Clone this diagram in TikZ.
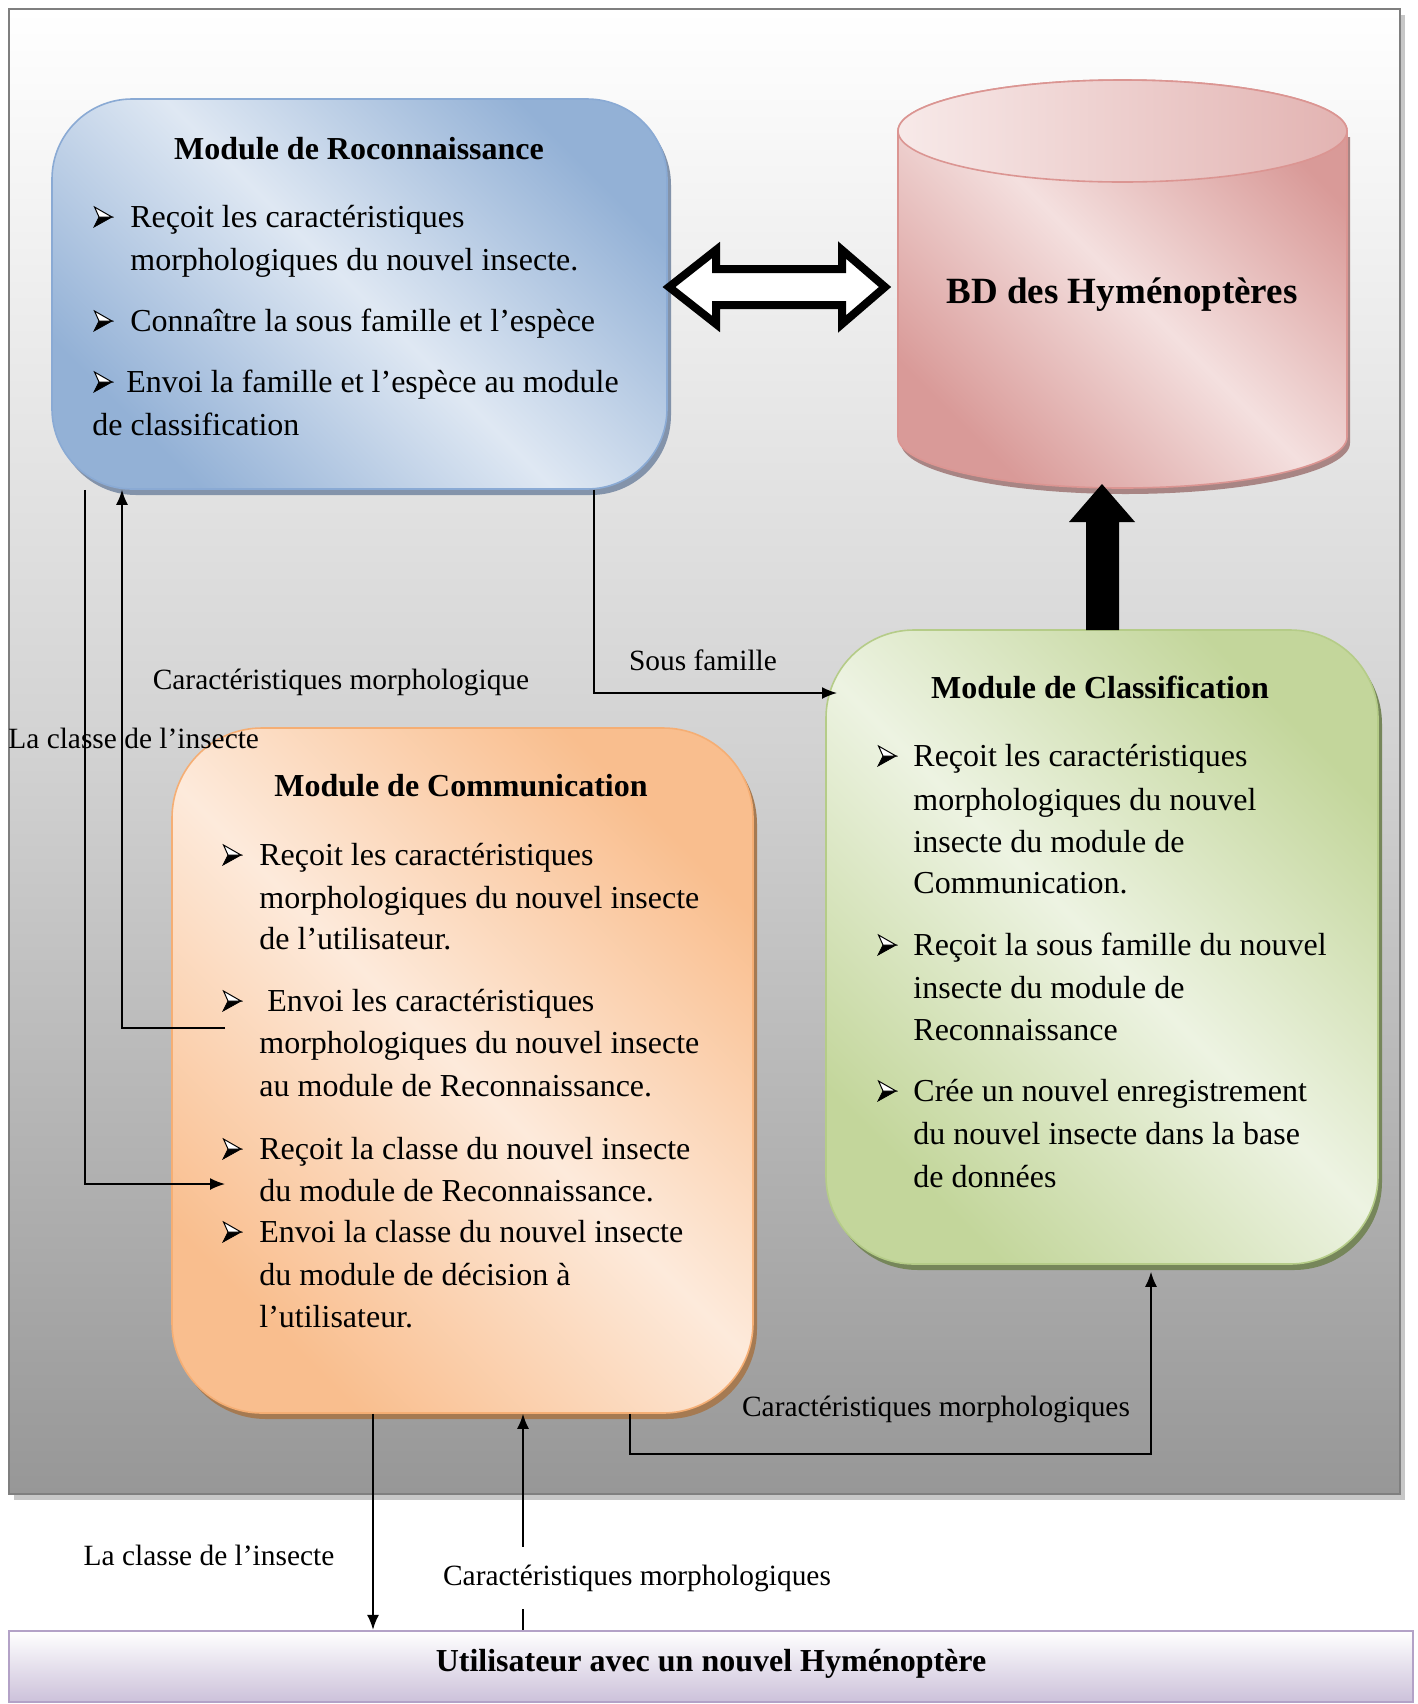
\documentclass[tikz,border=0pt]{standalone}
\usepackage{fontspec}
\setmainfont{Liberation Serif}
\usetikzlibrary{calc,arrows.meta}
\definecolor{recL}{HTML}{DFE8F3}
\definecolor{recD}{HTML}{93B1D6}
\definecolor{recB}{HTML}{8AAAD4}
\definecolor{recS}{HTML}{8393AA}
\definecolor{clsL}{HTML}{EDF3E2}
\definecolor{clsD}{HTML}{C3D69B}
\definecolor{clsB}{HTML}{B5CC88}
\definecolor{clsS}{HTML}{76865A}
\definecolor{comL}{HTML}{FDEADB}
\definecolor{comD}{HTML}{F9BE8E}
\definecolor{comB}{HTML}{F5AE74}
\definecolor{comS}{HTML}{A57A52}
\definecolor{dbL}{HTML}{F4E0DF}
\definecolor{dbD}{HTML}{D99A98}
\definecolor{dbB}{HTML}{DB9592}
\definecolor{dbS}{HTML}{A88584}
\definecolor{usrD}{HTML}{CCC1DA}
\definecolor{usrB}{HTML}{B3A2C7}
\definecolor{frameB}{HTML}{7F7F7F}
\definecolor{frameD}{HTML}{979797}
\definecolor{frameM}{HTML}{D2D2D2}
\newcommand\bdyf{\fontsize{16}{21}\selectfont}
\newcommand\lblf{\fontsize{14.7}{17}\selectfont}
\newcommand\ttlf{\bfseries\fontsize{16}{19}\selectfont}
\begin{document}
\begin{tikzpicture}[x=0.5pt,y=0.5pt,
  box/.style={rectangle,inner sep=0pt,line width=0.8pt},
  diag/.style 2 args={top color=#1,bottom color=#1,middle color=#2,shading angle=-45},
  ln/.style={anchor=base west,inner sep=0pt,font=\bdyf},
  ttl/.style={anchor=base,inner sep=0pt,font=\ttlf},
  lbl/.style={anchor=base,inner sep=0pt,font=\lblf},
  conn/.style={line width=0.8pt,draw=black},
  tip/.style={-{Latex[length=7.5pt,width=6pt]}},
  pics/bult/.style={code={
    \filldraw[black,line width=0.4pt,line join=miter] (5,10) -- (18,10) -- (0,0) -- cycle;
    \filldraw[draw=black,fill=white,line width=0.5pt,line join=miter] (0.5,20) -- (18,10) -- (5,10) -- cycle;
  }}]
\useasboundingbox (0,0) rectangle (1418,-1704);
\fill[white] (0,0) rectangle (1418,-1704);

% frame
\node[box,fill=black!22,minimum width=695.5pt,minimum height=742.5pt] (frameS) at (709.5,-757.5) {};
\node[box,draw=frameB,line width=1.1pt,top color=white,bottom color=frameD,middle color=frameM,minimum width=695.5pt,minimum height=742.5pt] (frame) at (704.5,-751.5) {};

% Reconnaissance box
\node[box,fill=recS,rounded corners=40pt,minimum width=307.5pt,minimum height=195pt] (reconS) at (363.5,-300) {};
\node[box,draw=recB,diag={recD}{recL},rounded corners=40pt,minimum width=307.5pt,minimum height=195pt] (recon) at (359.5,-294) {};

% Classification box
\node[box,fill=clsS,rounded corners=44pt,minimum width=276pt,minimum height=317pt] (classifS) at (1106,-953) {};
\node[box,draw=clsB,diag={clsD}{clsL},rounded corners=44pt,minimum width=276pt,minimum height=317pt] (classif) at (1102,-947) {};

% Communication box
\node[box,fill=comS,rounded corners=45pt,minimum width=290.5pt,minimum height=342.5pt] (commS) at (466.5,-1076.5) {};
\node[box,draw=comB,diag={comD}{comL},rounded corners=45pt,minimum width=290.5pt,minimum height=342.5pt] (comm) at (462.5,-1070.5) {};

% User box
\node[box,draw=usrB,line width=1.2pt,top color=white,bottom color=usrD,minimum width=702pt,minimum height=35.5pt] (user) at (711,-1666.5) {};

% Database cylinder
\fill[dbS] (901,-137) -- (901,-443) arc[start angle=180,end angle=360,x radius=224.5,y radius=51] -- (1350,-137) -- cycle;
\path[draw=dbB,line width=0.8pt,diag={dbD}{dbL}] (898,-131) -- (898,-437) arc[start angle=180,end angle=360,x radius=224.5,y radius=51] -- (1347,-131) arc[start angle=0,end angle=180,x radius=224.5,y radius=51] -- cycle;
\path[draw=dbB,line width=0.8pt,left color=dbL!70!white,right color=dbD!75!white] (1122.5,-131) ellipse[x radius=224.5,y radius=51];
\node[anchor=base,inner sep=0pt,font=\bfseries\fontsize{18.5}{22}\selectfont] (db) at (1122,-303) {BD des Hyménoptères};
\coordinate (dbBottom) at (1102,-484);

% big double arrow
\draw[line width=4pt,fill=white,line join=miter] (669,-287) -- (716,-250) -- (716,-269) -- (842,-269) -- (842,-250) -- (885,-287) -- (842,-324) -- (842,-305) -- (716,-305) -- (716,-324) -- cycle;

% thick up arrow classification -> database
\fill[black] (dbBottom) -- (1135,-522) -- (1119,-522) -- (1119,-630) -- (1086,-630) -- (1086,-522) -- (1069,-522) -- cycle;

% Texts: Reconnaissance
\node[ttl] (rt) at (359,-159) {Module de Roconnaissance};
\pic at (94,-227) {bult};
\node[ln] (rl1) at (130,-227) {Reçoit les caractéristiques};
\node[ln] (rl2) at (130,-270) {morphologiques du nouvel insecte.};
\pic at (94,-331) {bult};
\node[ln] (rl3) at (130,-331) {Connaître la sous famille et l’espèce};
\pic at (94,-392) {bult};
\node[ln] (rl4) at (126,-392) {Envoi la famille et l’espèce au module};
\node[ln] (rl5) at (92,-435) {de classification};

% Texts: Classification
\node[ttl] (ct) at (1100,-698) {Module de Classification};
\pic at (878,-766) {bult};
\node[ln] (cl1) at (913,-766) {Reçoit les caractéristiques};
\node[ln] (cl2) at (913,-810) {morphologiques du nouvel};
\node[ln] (cl3) at (913,-852) {insecte du module de};
\node[ln] (cl4) at (913,-893) {Communication.};
\pic at (878,-955) {bult};
\node[ln] (cl5) at (913,-955) {Reçoit la sous famille du nouvel};
\node[ln] (cl6) at (913,-998) {insecte du module de};
\node[ln] (cl7) at (913,-1040) {Reconnaissance};
\pic at (878,-1101) {bult};
\node[ln] (cl8) at (913,-1101) {Crée un nouvel enregistrement};
\node[ln] (cl9) at (913,-1144) {du nouvel insecte dans la base};
\node[ln] (cl10) at (913,-1187) {de données};

% Texts: Communication
\node[ttl] (mt) at (461,-796) {Module de Communication};
\pic at (223,-865) {bult};
\node[ln] (ml1) at (259,-865) {Reçoit les caractéristiques};
\node[ln] (ml2) at (259,-908) {morphologiques du nouvel insecte};
\node[ln] (ml3) at (259,-949) {de l’utilisateur.};
\pic at (223,-1011) {bult};
\node[ln] (ml4) at (267,-1011) {Envoi les caractéristiques};
\node[ln] (ml5) at (259,-1053) {morphologiques du nouvel insecte};
\node[ln] (ml6) at (259,-1096) {au module de Reconnaissance.};
\pic at (223,-1159) {bult};
\node[ln] (ml7) at (259,-1159) {Reçoit la classe du nouvel insecte};
\node[ln] (ml8) at (259,-1201) {du module de Reconnaissance.};
\pic at (223,-1242) {bult};
\node[ln] (ml9) at (259,-1242) {Envoi la classe du nouvel insecte};
\node[ln] (ml10) at (259,-1285) {du module de décision à};
\node[ln] (ml11) at (259,-1327) {l’utilisateur.};

% User text
\node[ttl] (ut) at (711,-1671) {Utilisateur avec un nouvel Hyménoptère};

% connectors
\coordinate (lcx) at (85,0);
\coordinate (cmx) at (122,0);
\coordinate (sfx) at (594,0);
\coordinate (cbx) at (630,0);
\coordinate (cbx2) at (1151,0);
\coordinate (ux1) at (373,0);
\coordinate (ux2) at (523,0);
\coordinate (commInA) at (225,-1184);
\coordinate (commOutB) at (225,-1028);
\coordinate (sfEnd) at (837,-693);
\coordinate (clsIn) at ($(classif.south -| cbx2)+(0,-7)$);

\draw[conn,tip] (recon.south -| lcx) |- (commInA);
\draw[conn,tip] (commOutB) -| (recon.south -| cmx);
\draw[conn,tip] (recon.south -| sfx) |- (sfEnd);
\draw[conn,tip] (comm.south -| cbx) -- ++(0,-40) -| (clsIn);
\draw[conn,tip] (comm.south -| ux1) -- (user.north -| ux1);
\draw[conn,tip] (user.north -| ux2) -- (comm.south -| ux2);

% labels
\node[lbl] (lab1) at (341,-689) {Caractéristiques morphologique};
\node[lbl] (lab2) at (703,-670) {Sous famille};
\node[lbl,anchor=base west] (lab3) at (8,-748) {La classe de l’insecte};
\node[lbl] (lab4) at (936,-1416) {Caractéristiques morphologiques};
\node[lbl] (lab5) at (209,-1565) {La classe de l’insecte};
\node[lbl,fill=white,inner xsep=2pt,inner ysep=9pt] (lab6) at (637,-1585) {Caractéristiques morphologiques};
\end{tikzpicture}
\end{document}
